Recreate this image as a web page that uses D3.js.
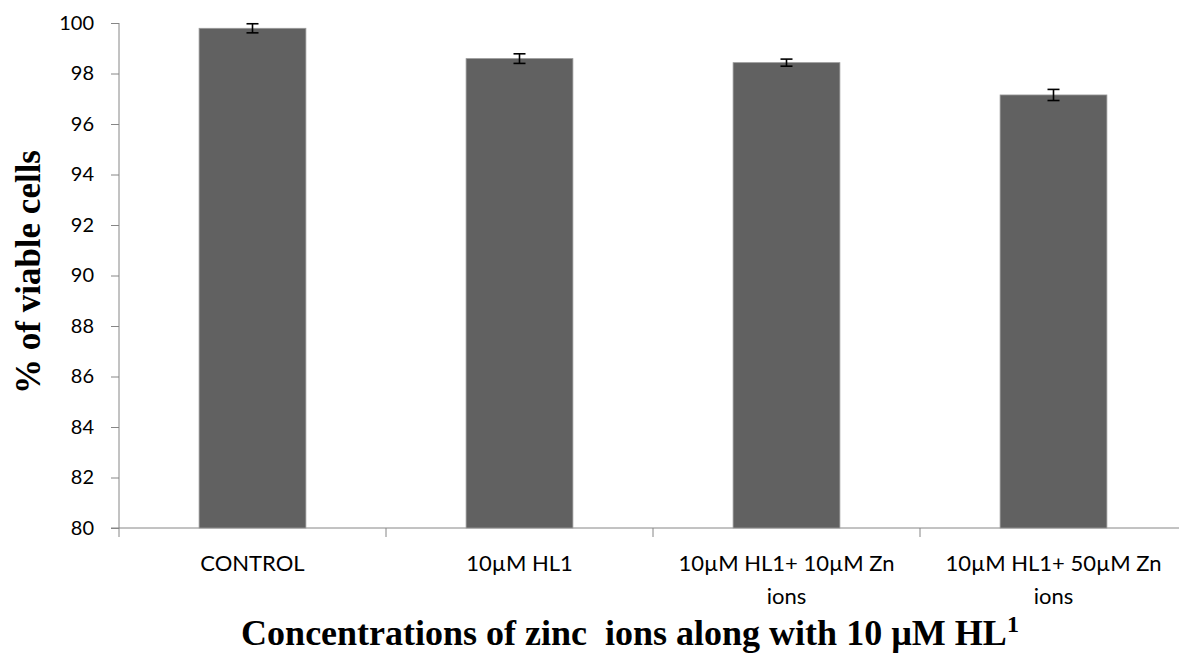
<!DOCTYPE html>
<html>
<head>
<meta charset="utf-8">
<script src="https://cdn.jsdelivr.net/npm/d3@7"></script>
<style>
  body { margin: 0; background: #fff; }
  svg { display: block; }
</style>
</head>
<body>
<div id="chart"></div>
<script>
// ==========================
// Data
// ==========================
const categories = ["CONTROL", "10µM HL1", "10µM HL1+ 10µM Zn ions", "10µM HL1+ 50µM Zn ions"];
const viability = [99.79, 98.59, 98.43, 97.15];
const errors = [0.18, 0.19, 0.14, 0.22];
const yTicks = [80, 82, 84, 86, 88, 90, 92, 94, 96, 98, 100];

// ==========================
// Dimensions
// ==========================
const width = 1179;
const height = 655;
const margin = { left: 119, top: 23, bottom: 655 - 528 };
const plotRight = 1187;

const svg = d3.select("#chart")
    .append("svg")
    .attr("width", width)
    .attr("height", height);

const x = d3.scaleBand()
    .domain(categories)
    .range([margin.left, plotRight])
    .paddingInner(0.6)
    .paddingOuter(0.3);

const y = d3.scaleLinear()
    .domain([80, 100])
    .range([height - margin.bottom, margin.top]);

const axisColor = "#868686";
const labelFont = "Lato, 'Open Sans', sans-serif";
const labelSize = 22;

// ==========================
// Axes
// ==========================
const yAxis = svg.append("g")
    .attr("transform", `translate(${margin.left},0)`)
    .call(d3.axisLeft(y).tickValues(yTicks).tickSize(8).tickPadding(17).tickFormat(d3.format("d")));
yAxis.select(".domain").attr("stroke", axisColor).attr("d", `M0,${y(100)}V${y(80)}`);
yAxis.selectAll(".tick line").attr("stroke", axisColor);
yAxis.selectAll(".tick text")
    .attr("font-family", labelFont)
    .attr("font-size", 20)
    .attr("fill", "#000");

// x axis line with ticks at band boundaries
const xAxis = svg.append("g");
xAxis.append("line")
    .attr("x1", margin.left - 8)
    .attr("x2", width)
    .attr("y1", y(80))
    .attr("y2", y(80))
    .attr("stroke", axisColor);

const step = x.step();
const boundaries = categories.map(c => x(c) - (step - x.bandwidth()) / 2);
boundaries.push(boundaries[boundaries.length - 1] + step);
xAxis.selectAll(".xtick")
    .data(boundaries)
    .enter()
    .append("line")
    .attr("class", "xtick")
    .attr("x1", d => d)
    .attr("x2", d => d)
    .attr("y1", y(80))
    .attr("y2", y(80) + 9)
    .attr("stroke", axisColor);

// ==========================
// Bars & error bars
// ==========================
svg.selectAll(".bar")
    .data(categories)
    .enter()
    .append("rect")
    .attr("class", "bar")
    .attr("x", d => x(d))
    .attr("y", (d, i) => y(viability[i]))
    .attr("width", x.bandwidth())
    .attr("height", (d, i) => y(80) - y(viability[i]))
    .attr("fill", "#616161")
    .attr("stroke", "#9a9a9a")
    .attr("stroke-width", 0.8);

const err = svg.selectAll(".err")
    .data(categories)
    .enter()
    .append("g")
    .attr("class", "err")
    .attr("stroke", "#000")
    .attr("stroke-width", 1.6);

err.append("line")
    .attr("x1", d => x(d) + x.bandwidth() / 2)
    .attr("x2", d => x(d) + x.bandwidth() / 2)
    .attr("y1", (d, i) => y(viability[i] + errors[i]))
    .attr("y2", (d, i) => y(viability[i] - errors[i]));

[1, -1].forEach(s => {
    err.append("line")
        .attr("x1", d => x(d) + x.bandwidth() / 2 - 6)
        .attr("x2", d => x(d) + x.bandwidth() / 2 + 6)
        .attr("y1", (d, i) => y(viability[i] + s * errors[i]))
        .attr("y2", (d, i) => y(viability[i] + s * errors[i]));
});

// ==========================
// Category labels (wrapped)
// ==========================
function wrapLines(text, maxWidth, measure) {
    const words = text.split(" ");
    const lines = [];
    let line = "";
    words.forEach(w => {
        const test = line ? line + " " + w : w;
        if (measure(test) > maxWidth && line) {
            lines.push(line);
            line = w;
        } else {
            line = test;
        }
    });
    lines.push(line);
    return lines;
}

const measurer = svg.append("text")
    .attr("font-family", labelFont)
    .attr("font-size", labelSize)
    .attr("visibility", "hidden");
const measure = s => { measurer.text(s); return measurer.node().getComputedTextLength(); };

categories.forEach(c => {
    const lines = wrapLines(c, step * 0.9, measure);
    const cx = x(c) + x.bandwidth() / 2;
    const t = svg.append("text")
        .attr("x", cx)
        .attr("y", 571)
        .attr("text-anchor", "middle")
        .attr("font-family", labelFont)
        .attr("font-size", labelSize)
        .attr("fill", "#000");
    lines.forEach((l, i) => {
        t.append("tspan")
            .attr("x", cx)
            .attr("dy", i === 0 ? 0 : 33)
            .text(l);
    });
});
measurer.remove();

// ==========================
// Axis titles
// ==========================
svg.append("text")
    .attr("transform", `translate(40, 272) rotate(-90)`)
    .attr("text-anchor", "middle")
    .attr("font-family", "'Liberation Serif', serif")
    .attr("font-weight", "bold")
    .attr("font-size", 35)
    .text("% of viable cells");

const xTitle = svg.append("text")
    .attr("x", 630)
    .attr("y", 645)
    .attr("text-anchor", "middle")
    .attr("font-family", "'Liberation Serif', serif")
    .attr("font-weight", "bold")
    .attr("font-size", 36)
    .style("white-space", "pre");
xTitle.append("tspan").text("Concentrations of zinc  ions along with 10 µM HL");
xTitle.append("tspan").attr("font-size", 24).attr("dy", -13).text("1");
</script>
</body>
</html>
